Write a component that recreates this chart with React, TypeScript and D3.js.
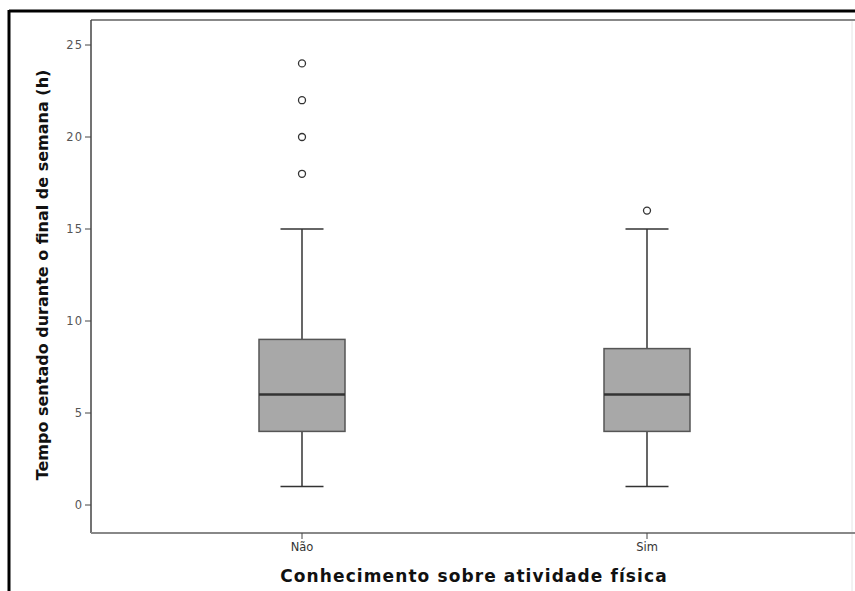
import * as d3 from 'd3';
import React from 'react';

// Box plot values
const categories = ['Não', 'Sim'];
const whiskerLow = [1, 1];
const q1 = [4, 4];
const median = [6, 6];
const q3 = [9, 8.5];
const whiskerHigh = [15, 15];
const outliers = [[18, 20, 22, 24], [16]];
const yTicks = [0, 5, 10, 15, 20, 25];

const W = 855;
const H = 591;

export default function App() {
  // plot frame
  const left = 91;
  const top = 20;
  const bottom = 533;
  const right = 900;

  const y = d3.scaleLinear().domain([0, 25]).range([505, 45]);
  const x = d3.scalePoint().domain(categories).range([302, 647]);

  const boxW = 86;
  const capW = 43;

  return (
    <svg
      width={W}
      height={H}
      style={{ position: 'absolute', left: 0, top: 0 }}
      fontFamily="'DejaVu Sans', sans-serif"
    >
      <rect x={0} y={0} width={W} height={H} fill="#fff" />
      {/* outer frame */}
      <line x1={9} y1={11} x2={W} y2={11} stroke="#000" strokeWidth={3} />
      <line x1={9} y1={10} x2={9} y2={H} stroke="#000" strokeWidth={3} />
      <line x1={852} y1={20} x2={852} y2={H} stroke="#e4e4e4" strokeWidth={1} />

      {/* plot frame */}
      <line x1={left} y1={top} x2={right} y2={top} stroke="#888" strokeWidth={2} />
      <line x1={left} y1={top} x2={left} y2={bottom} stroke="#444" strokeWidth={1.5} />
      <line x1={left} y1={bottom} x2={right} y2={bottom} stroke="#888" strokeWidth={2} />

      {/* y ticks */}
      {yTicks.map((t) => (
        <g key={t}>
          <line x1={left - 6} x2={left} y1={y(t)} y2={y(t)} stroke="#444" />
          <text
            x={left - 8}
            y={y(t)}
            dy="0.35em"
            textAnchor="end"
            fontSize={11.5}
            fill="#555"
            letterSpacing={1}
          >
            {t}
          </text>
        </g>
      ))}

      {/* x ticks */}
      {categories.map((c) => (
        <g key={c}>
          <line x1={x(c)} x2={x(c)} y1={bottom} y2={bottom + 6} stroke="#444" />
          <text
            x={x(c)}
            y={bottom + 18}
            textAnchor="middle"
            fontSize={11.5}
            fill="#333"
          >
            {c}
          </text>
        </g>
      ))}

      {/* boxes */}
      {categories.map((c, i) => {
        const cx = x(c) as number;
        return (
          <g key={c}>
            <line x1={cx} x2={cx} y1={y(whiskerLow[i])} y2={y(q1[i])} stroke="#000" strokeWidth={1.2} />
            <line x1={cx} x2={cx} y1={y(q3[i])} y2={y(whiskerHigh[i])} stroke="#000" strokeWidth={1.2} />
            <line x1={cx - capW / 2} x2={cx + capW / 2} y1={y(whiskerLow[i])} y2={y(whiskerLow[i])} stroke="#333" strokeWidth={1.5} />
            <line x1={cx - capW / 2} x2={cx + capW / 2} y1={y(whiskerHigh[i])} y2={y(whiskerHigh[i])} stroke="#333" strokeWidth={1.5} />
            <rect
              x={cx - boxW / 2}
              y={y(q3[i])}
              width={boxW}
              height={y(q1[i]) - y(q3[i])}
              fill="#a8a8a8"
              stroke="#555"
              strokeWidth={1.5}
            />
            <line x1={cx - boxW / 2} x2={cx + boxW / 2} y1={y(median[i])} y2={y(median[i])} stroke="#333" strokeWidth={2.5} />
            {outliers[i].map((o) => (
              <circle key={o} cx={cx} cy={y(o)} r={3.5} fill="none" stroke="#333" strokeWidth={1.3} />
            ))}
          </g>
        );
      })}

      {/* axis titles */}
      <text
        x={474}
        y={582}
        textAnchor="middle"
        fontSize={17}
        fontWeight="bold"
        fill="#111"
        letterSpacing={1.1}
      >
        Conhecimento sobre atividade física
      </text>
      <text
        transform={`translate(48,${275}) rotate(-90)`}
        textAnchor="middle"
        fontSize={16}
        fontWeight="bold"
        fill="#111"
      >
        Tempo sentado durante o final de semana (h)
      </text>
    </svg>
  );
}
